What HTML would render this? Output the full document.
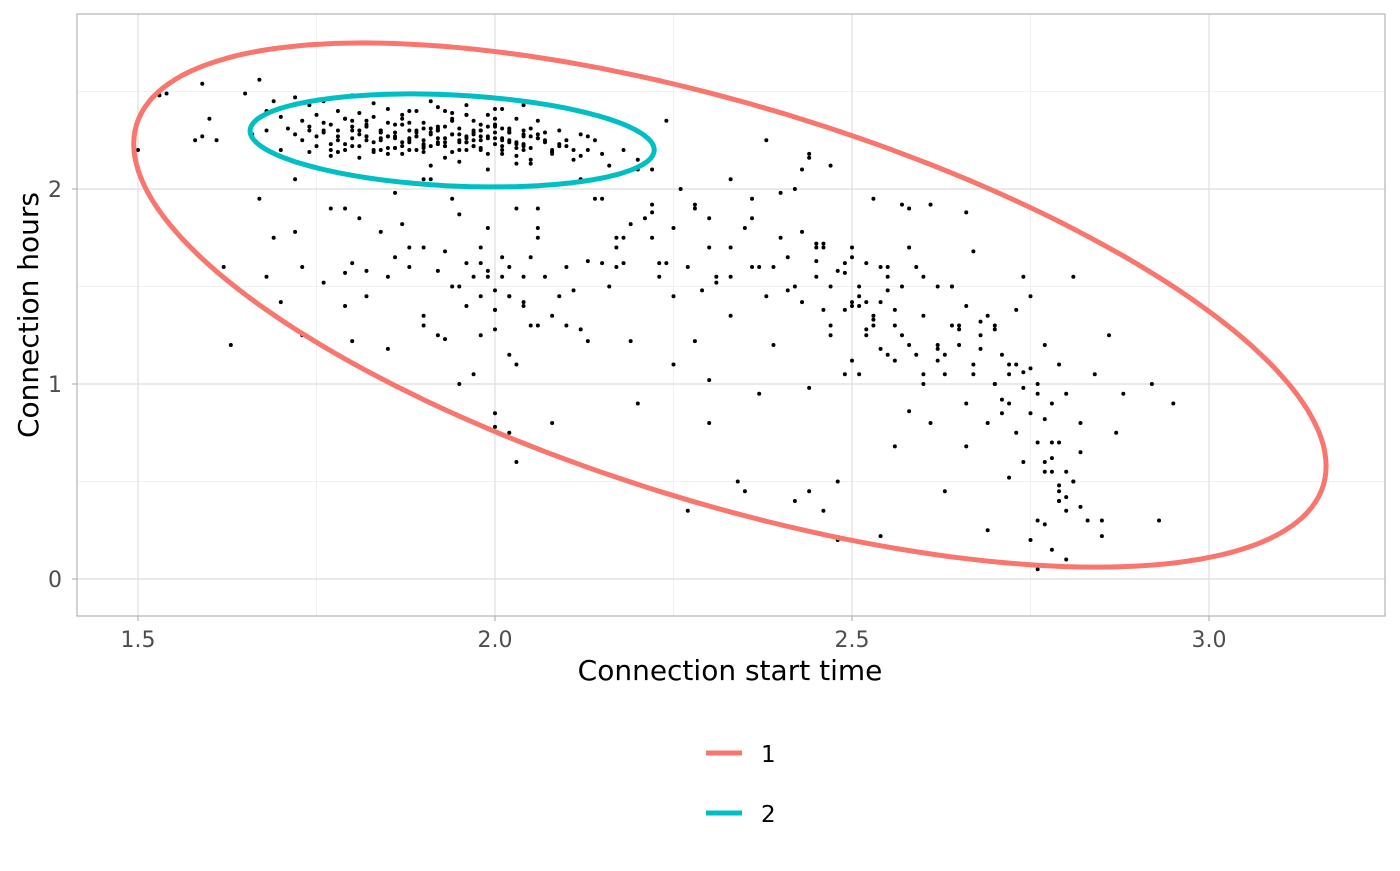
<!DOCTYPE html>
<html><head><meta charset="utf-8"><style>
html,body{margin:0;padding:0;background:#fff;}
svg text{font-family:"DejaVu Sans","Liberation Sans",sans-serif;}
</style></head><body>
<svg id="chart" width="1400" height="866" viewBox="0 0 1400 866" xmlns="http://www.w3.org/2000/svg">
<g id="grid"></g>
<g id="pts"></g>
<g id="ells"></g>
<rect x="77" y="14" width="1308" height="602" fill="none" stroke="#b3b3b3" stroke-width="1.2"/>
<g id="axes"></g>
<text x="730" y="680" text-anchor="middle" font-size="28" fill="#000">Connection start time</text>
<text transform="translate(38,315) rotate(-90)" text-anchor="middle" font-size="28" fill="#000">Connection hours</text>
<g>
<g><line x1="706" y1="753" x2="742" y2="753" stroke="#F8766D" stroke-width="5"/><text x="761" y="762" font-size="23">1</text></g>
<g><line x1="706" y1="813" x2="742" y2="813" stroke="#00BFC4" stroke-width="5"/><text x="761" y="822" font-size="23">2</text></g>
</g>
</svg>
<script>
const xTicks=[1.5,2.0,2.5,3.0];
const xTickLabels=["1.5","2.0","2.5","3.0"];
const xMinor=[1.75,2.25,2.75];
const yTicks=[0,1,2];
const yTickLabels=["0","1","2"];
const yMinor=[0.5,1.5,2.5];
const ellCenterX=[2.329,1.94];
const ellCenterY=[1.405,2.249];
const ellSdX=[0.835,0.283];
const ellSdY=[1.344,0.2385];
const ellRho=[-0.6145,-0.204];
const ellColors=["#F8766D","#00BFC4"];
const px=[1.5,1.54,1.53,1.59,1.59,1.61,1.6,1.58,1.62,1.65,1.67,1.68,1.66,1.69,1.7,1.7,1.71,1.72,1.72,1.73,1.73,1.74,1.74,1.75,1.75,1.76,1.76,1.77,1.77,1.78,1.78,1.79,1.79,1.8,1.8,1.81,1.81,1.82,1.82,1.83,1.83,1.84,1.84,1.85,1.85,1.86,1.86,1.87,1.87,1.88,1.88,1.89,1.89,1.9,1.9,1.91,1.91,1.92,1.92,1.93,1.93,1.94,1.94,1.95,1.95,1.96,1.96,1.97,1.97,1.98,1.98,1.99,1.99,2.0,2.0,2.01,2.01,2.02,2.02,2.03,2.03,2.04,2.04,2.05,2.05,2.06,2.07,2.08,2.09,2.1,2.11,2.12,2.13,2.14,2.15,2.16,2.18,2.2,2.22,1.76,1.78,1.8,1.82,1.84,1.86,1.88,1.9,1.92,1.94,1.96,1.98,2.0,2.02,2.04,2.06,2.08,1.79,1.83,1.87,1.91,1.95,1.99,2.03,2.07,1.74,1.81,1.85,1.89,1.93,1.97,2.01,2.05,2.09,2.13,1.77,1.8,1.84,1.88,1.92,1.96,2.0,2.04,1.9,1.94,1.98,2.02,1.86,1.82,1.96,2.01,1.93,1.97,
1.68,1.69,1.72,1.76,1.77,1.79,1.8,1.82,1.84,1.85,1.87,1.88,1.9,1.91,1.93,1.95,1.96,1.98,1.99,2.0,2.01,2.02,2.03,2.04,2.05,2.06,2.07,2.08,2.1,2.11,2.13,2.15,2.17,2.19,1.82,1.86,1.9,1.94,1.98,2.0,2.02,2.04,2.06,1.92,1.97,2.01,2.03,2.05,1.97,1.99,2.0,2.02,1.95,1.85,1.8,1.72,1.67,1.63,1.79,1.93,1.99,2.0,2.03,2.08,2.12,2.17,
2.18,2.2,2.22,2.24,2.26,2.27,2.28,2.3,2.31,2.33,2.35,2.36,2.37,2.38,2.4,2.41,2.42,2.43,2.44,2.45,2.46,2.47,2.48,2.49,2.5,2.51,2.52,2.53,2.54,2.55,2.56,2.57,2.58,2.59,2.6,2.61,2.62,2.63,2.64,2.65,2.66,2.67,2.68,2.69,2.7,2.71,2.72,2.73,2.74,2.75,2.76,2.77,2.78,2.79,2.8,2.81,2.82,2.84,2.86,2.88,
2.2,2.23,2.25,2.28,2.3,2.33,2.36,2.38,2.41,2.43,2.45,2.47,2.49,2.5,2.52,2.53,2.55,2.57,2.6,2.62,2.64,2.66,2.68,2.7,2.72,2.74,2.75,2.76,2.77,2.78,2.79,2.8,2.81,2.82,2.83,2.85,2.87,2.92,2.95,2.93,
2.27,2.3,2.34,2.37,2.42,2.44,2.46,2.48,2.5,2.51,2.54,2.56,2.58,2.61,2.63,2.66,2.69,2.71,2.73,2.76,2.78,2.8,2.78,2.77,2.79,2.76,2.74,2.8,2.85,2.75,
2.48,2.49,2.5,2.52,2.53,2.54,2.55,2.47,2.45,2.51,2.56,2.6,2.65,2.67,2.7,2.72,2.74,2.77,2.79,2.82,2.35,2.4,2.43,2.22,2.17,2.15,2.19,1.98,1.95,1.9,1.86,1.81,1.79,1.73,1.7,1.68,2.0,2.02,2.06,2.09,2.1,2.13,2.18,2.22,2.25,2.24,2.29,2.31,2.33,2.39,2.44,2.46,2.58,2.62,
1.73,1.74,1.75,1.76,1.77,1.78,1.79,1.8,1.81,1.82,1.83,1.84,1.85,1.86,1.87,1.88,1.89,1.9,1.91,1.92,1.93,1.94,1.95,1.96,1.97,1.98,1.99,2.0,2.01,2.02,2.03,2.04,2.05,2.06,2.07,2.08,2.09,2.1,2.11,2.12,
1.78,1.8,1.82,1.84,1.86,1.88,1.9,1.92,1.94,1.96,1.98,2.0,2.02,2.04,2.06,1.83,1.87,1.91,1.95,1.99,2.03,1.85,1.89,1.93,1.97,2.01,1.92,1.96,2.0,1.94,1.98,1.9,
1.81,1.85,1.89,1.93,1.97,2.01,2.05,1.84,1.88,1.92,1.96,2.0,2.04,1.87,1.91,1.95,1.99,2.03,
2.44,2.46,2.47,2.5,2.51,2.53,2.55,2.57,2.58,2.6,2.63,2.65,2.67,2.68,2.7,2.71,2.73,2.75,2.76,2.77,2.78,2.79,2.8,2.81,2.79,2.77,2.72,2.69,2.66,2.64,2.62,2.59,2.56,2.54,2.52,2.49,2.45,2.42,2.39,2.36,2.33,2.3,2.28,2.25,2.23,2.21,2.16,2.14,2.12,2.08,2.06,2.04,2.02,2.0,1.98,1.96,1.94,1.92,1.9,1.88];
const py=[2.2,2.49,2.48,2.54,2.27,2.25,2.36,2.25,1.6,2.49,2.56,2.4,2.28,2.45,2.37,2.2,2.31,2.47,2.28,2.35,2.25,2.43,2.3,2.38,2.22,2.45,2.29,2.33,2.17,2.4,2.25,2.36,2.2,2.48,2.3,2.39,2.22,2.35,2.27,2.44,2.19,2.3,2.25,2.41,2.21,2.33,2.26,2.38,2.18,2.3,2.24,2.4,2.27,2.34,2.21,2.45,2.29,2.32,2.23,2.4,2.26,2.36,2.19,2.31,2.24,2.43,2.27,2.35,2.22,2.3,2.25,2.38,2.18,2.33,2.26,2.41,2.2,2.29,2.24,2.36,2.17,2.3,2.22,2.27,2.13,2.35,2.25,2.19,2.3,2.22,2.15,2.28,2.2,2.25,2.18,2.12,2.2,2.15,2.1,2.3,2.27,2.32,2.25,2.29,2.21,2.26,2.31,2.24,2.28,2.2,2.27,2.23,2.3,2.2,2.26,2.18,2.23,2.37,2.22,2.28,2.25,2.32,2.21,2.29,2.19,2.3,2.34,2.27,2.24,2.29,2.26,2.31,2.23,2.27,2.2,2.22,2.26,2.2,2.31,2.24,2.33,2.27,2.22,2.35,2.3,2.25,2.29,2.27,2.24,2.31,2.22,2.28,2.3,
1.75,1.78,1.52,1.9,1.57,1.62,1.58,1.78,1.55,1.82,1.6,1.7,2.05,1.68,1.87,1.62,1.45,1.8,1.38,1.55,1.45,1.9,1.4,1.65,1.3,1.55,1.35,1.6,1.48,1.22,1.62,1.75,1.22,1.45,1.98,2.05,1.95,1.7,1.28,1.15,1.42,1.8,1.25,1.55,1.65,1.1,1.3,1.05,1.58,0.85,0.75,1.0,1.18,1.22,2.05,1.95,1.2,1.4,1.23,1.55,0.78,0.6,0.8,1.28,1.6,1.62,
2.1,1.88,2.35,2.0,1.6,1.92,1.85,1.55,2.05,1.8,1.95,1.6,2.25,1.75,1.65,2.0,1.78,2.18,1.55,1.72,2.12,1.58,1.38,1.7,1.5,1.62,1.95,1.42,1.6,1.3,1.5,1.9,1.6,1.55,1.92,1.18,1.05,1.5,1.3,1.88,1.68,1.25,1.35,1.0,1.15,0.9,1.38,1.55,1.45,1.0,1.2,0.9,1.1,0.95,1.55,0.8,1.05,1.25,0.95,0.9,
1.55,1.1,1.22,1.02,1.7,1.6,1.45,1.48,1.42,1.63,1.25,1.57,1.65,1.28,1.33,1.15,1.92,1.05,1.2,1.5,1.4,1.32,1.28,1.1,1.06,1.08,0.7,0.55,0.62,0.48,0.42,0.5,0.37,0.3,0.22,0.75,1.0,0.9,0.3,0.35,
0.8,0.5,0.95,0.4,0.45,0.35,0.2,1.12,1.05,0.22,0.68,0.86,0.8,0.45,0.68,0.25,0.85,0.75,0.3,0.55,0.55,0.15,0.07,0.4,0.05,0.6,0.1,0.3,0.2,0.5,
1.62,1.42,1.25,1.35,1.18,1.48,1.3,1.72,1.4,1.12,1.0,1.2,1.1,1.3,1.05,0.98,0.82,0.7,0.65,0.45,1.98,2.1,1.75,1.7,1.95,1.82,1.25,1.5,1.35,1.65,1.85,1.9,1.6,1.42,1.55,1.48,1.6,1.9,1.45,1.3,1.63,1.75,1.92,1.8,1.62,1.48,1.52,1.35,1.2,0.98,1.38,1.7,1.12,1.25,
2.32,2.27,2.34,2.23,2.3,2.36,2.26,2.28,2.32,2.24,2.3,2.27,2.21,2.33,2.25,2.29,2.23,2.31,2.26,2.22,2.35,2.28,2.24,2.3,2.21,2.27,2.32,2.25,2.29,2.23,2.28,2.21,2.26,2.24,2.19,2.22,2.25,2.2,2.17,2.19,
2.35,2.33,2.29,2.27,2.34,2.25,2.3,2.28,2.26,2.33,2.29,2.31,2.23,2.28,2.2,2.24,2.22,2.2,2.26,2.24,2.27,2.3,2.32,2.25,2.22,2.3,2.38,2.36,2.39,2.2,2.19,2.16,
2.18,2.2,2.16,2.22,2.18,2.15,2.2,2.4,2.42,2.38,2.41,2.43,2.36,2.12,2.14,2.1,2.13,2.16,
1.7,1.5,1.4,1.45,1.3,1.55,1.25,1.2,1.35,1.15,1.28,1.05,1.18,1.0,0.92,1.1,0.85,0.95,0.6,0.7,0.45,0.35,0.5,0.4,0.28,0.52,0.8,0.9,1.3,1.5,1.15,1.38,1.6,1.42,1.05,1.7,1.5,1.6,1.85,1.55,1.7,1.9,1.45,1.62,1.85,1.5,1.95,2.05,2.2,1.75,1.55,1.45,1.38,1.62,1.4,1.5,1.58,1.3,1.7,1.62];
const X=v=>138+(v-1.5)*714;
const Y=v=>579-v*195;
const NS="http://www.w3.org/2000/svg";
function mk(tag,attrs,parent){const e=document.createElementNS(NS,tag);for(const k in attrs)e.setAttribute(k,attrs[k]);parent.appendChild(e);return e;}
const grid=document.getElementById('grid');
xMinor.forEach(v=>{const l=mk('line',{x1:X(v),x2:X(v),y1:14,y2:616,stroke:'#ececec','stroke-width':0.8},grid);});
yMinor.forEach(v=>{const l=mk('line',{x1:77,x2:1385,y1:Y(v),y2:Y(v),stroke:'#ececec','stroke-width':0.8},grid);});
xTicks.forEach(v=>{const l=mk('line',{x1:X(v),x2:X(v),y1:14,y2:616,stroke:'#dedede','stroke-width':1.2},grid);});
yTicks.forEach(v=>{const l=mk('line',{x1:77,x2:1385,y1:Y(v),y2:Y(v),stroke:'#dedede','stroke-width':1.2},grid);});
const axes=document.getElementById('axes');
xTicks.forEach((v,i)=>{const t=mk('line',{x1:X(v),x2:X(v),y1:616,y2:621,stroke:'#b3b3b3','stroke-width':1.2},axes);
const s=mk('text',{x:X(v),y:647,'text-anchor':'middle','font-size':22,fill:'#4d4d4d'},axes);s.textContent=xTickLabels[i];});
yTicks.forEach((v,i)=>{const t=mk('line',{x1:72,x2:77,y1:Y(v),y2:Y(v),stroke:'#b3b3b3','stroke-width':1.2},axes);
const s=mk('text',{x:62,y:Y(v)+8,'text-anchor':'end','font-size':22,fill:'#4d4d4d'},axes);s.textContent=yTickLabels[i];});
const pts=document.getElementById('pts');
for(let i=0;i<Math.min(px.length,py.length);i++){const c=mk('circle',{cx:X(px[i]),cy:Y(py[i]),r:2,fill:'#000'},pts);}
const ells=document.getElementById('ells');
for(let k=0;k<ellCenterX.length;k++){
 const sx=ellSdX[k],sy=ellSdY[k],r=ellRho[k];let d='';
 for(let j=0;j<=200;j++){const t=j/200*2*Math.PI;
  const xv=ellCenterX[k]+sx*Math.cos(t);
  const yv=ellCenterY[k]+sy*(r*Math.cos(t)+Math.sqrt(1-r*r)*Math.sin(t));
  d+=(j?'L':'M')+X(xv).toFixed(1)+','+Y(yv).toFixed(1);}
 const p=mk('path',{d:d+'Z',fill:'none',stroke:ellColors[k],'stroke-width':5},ells);
 
 
}
</script>
</body></html>
